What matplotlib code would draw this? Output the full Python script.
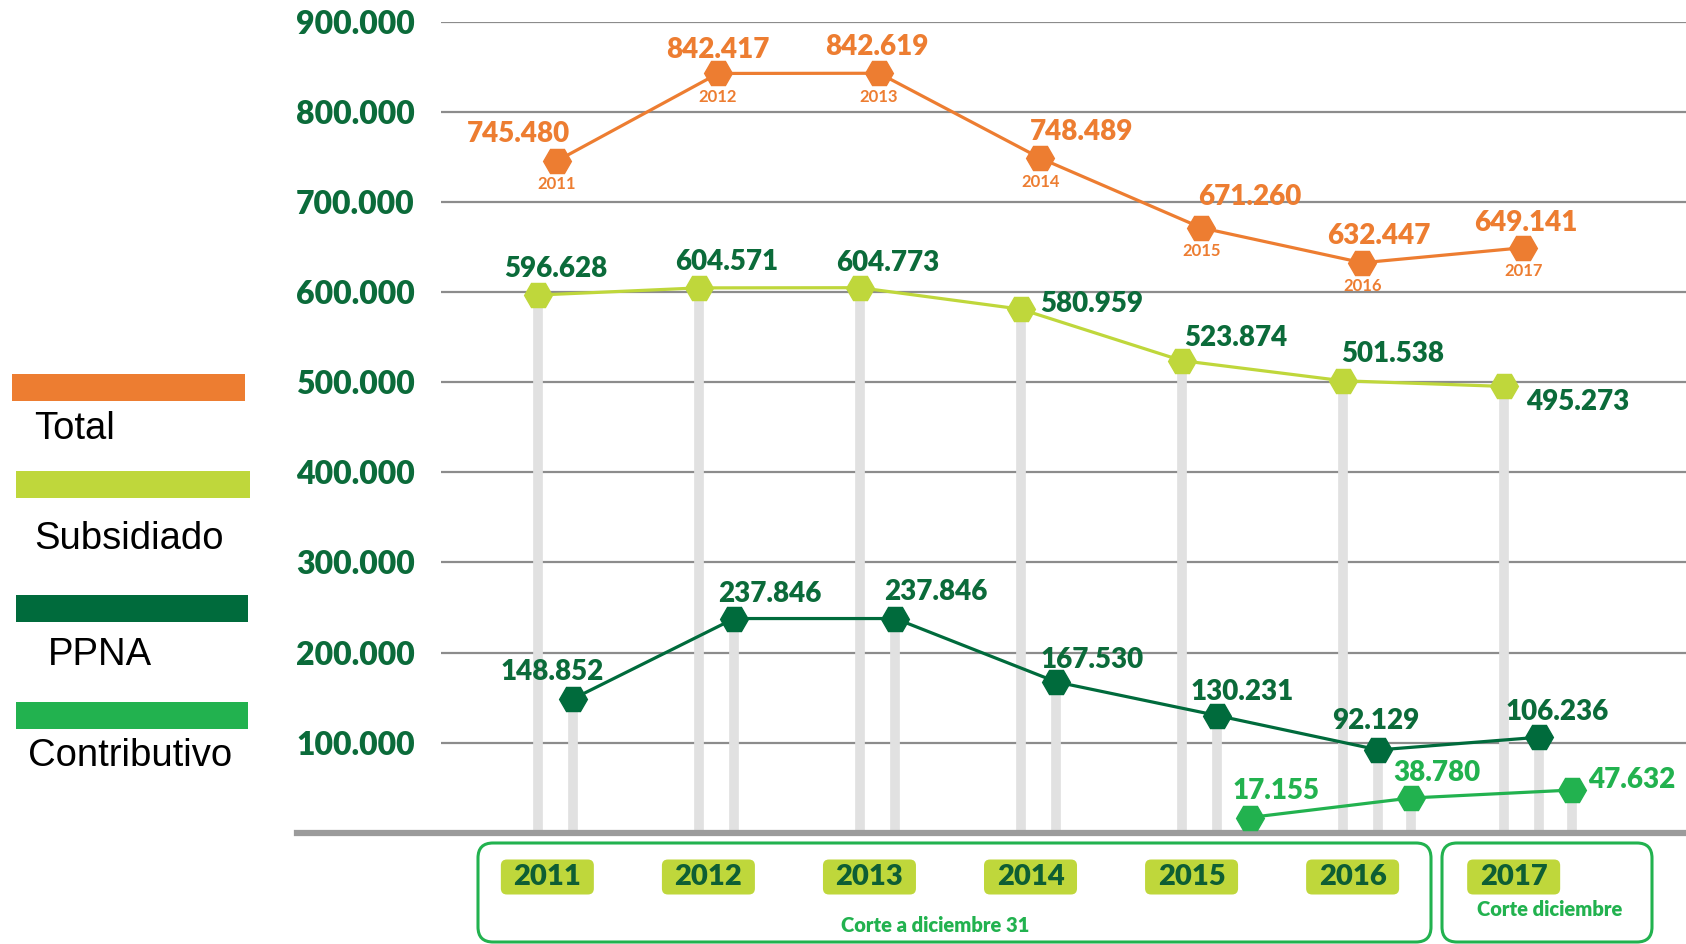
import matplotlib
matplotlib.use('Agg')
import matplotlib.pyplot as plt
from matplotlib.patches import Rectangle, FancyBboxPatch
import numpy as np

plt.rcParams['font.family'] = ['Lato', 'DejaVu Sans']

years = [2011, 2012, 2013, 2014, 2015, 2016, 2017]
total = [745480, 842417, 842619, 748489, 671260, 632447, 649141]
subsidiado = [596628, 604571, 604773, 580959, 523874, 501538, 495273]
ppna = [148852, 237846, 237846, 167530, 130231, 92129, 106236]
contrib_years = [2015, 2016, 2017]
contributivo = [17155, 38780, 47632]
yticks = [100000, 200000, 300000, 400000, 500000, 600000, 700000, 800000, 900000]
legend_names = ['Total', 'Subsidiado', 'PPNA', 'Contributivo']

ORANGE = '#ED7D31'
LIME = '#BFD73B'
DKGREEN = '#006B3C'
GREEN = '#22B24F'
TXTGREEN = '#0B6B3A'
STEM = '#e1e1e1'
W = 'heavy'

# label offsets (points) from each marker
off_total = [(-28, 19), (0, 17), (-2, 19), (30, 19), (35, 22), (12, 19), (2, 18)]
off_sub = [(13, 19), (20, 19), (20, 18), (51, 4), (39, 16), (36, 19), (53, -11)]
off_ppna = [(-15, 19), (26, 18), (29, 19), (26, 16), (18, 17), (-2, 21), (13, 18)]
off_con = [(19, 19), (19, 18), (43, 7)]


def fmt(v):
    return f'{v:,}'.replace(',', '.')


fig = plt.figure(figsize=(16.86, 9.44), dpi=100)
ax = fig.add_axes([0.2616, 0.1176, 0.7384, 0.8596])

x = np.arange(len(years))
xc = np.array([years.index(y) for y in contrib_years])
x_tot = x + 0.12
x_ppna = x + 0.22
x_con = xc + 0.42

ax.set_xlim(-0.60, 7.13)
ax.set_ylim(0, 900000)
ax.set_xticks([])
ax.set_yticks(yticks)
ax.set_yticklabels([fmt(t) for t in yticks])
ax.tick_params(axis='y', length=0, pad=19, labelsize=23, labelcolor=TXTGREEN)
for lab in ax.get_yticklabels():
    lab.set_fontweight(W)
for s in ax.spines.values():
    s.set_visible(False)
ax.grid(axis='y', color='#8c8c8c', lw=1.6)
ax.set_axisbelow(True)

ax.plot([-0.116, 1], [0, 0], transform=ax.transAxes, color='#9b9b9b', lw=4.5,
        clip_on=False, zorder=1.2)

ax.vlines(x, 0, subsidiado, color=STEM, lw=7, zorder=1.1)
ax.vlines(x_ppna, 0, ppna, color=STEM, lw=7, zorder=1.1)
ax.vlines(x_con, 0, contributivo, color=STEM, lw=7, zorder=1.1)

ax.plot(x_tot, total, color=ORANGE, lw=2.3, marker='H', ms=20, zorder=3, clip_on=False)
ax.plot(x, subsidiado, color=LIME, lw=2.3, marker='H', ms=20, zorder=3, clip_on=False)
ax.plot(x_ppna, ppna, color=DKGREEN, lw=2.3, marker='H', ms=20, zorder=3, clip_on=False)
ax.plot(x_con, contributivo, color=GREEN, lw=2.3, marker='H', ms=20, zorder=3, clip_on=False)

for xi, v, o, yr in zip(x_tot, total, off_total, years):
    ax.annotate(fmt(v), (xi, v), xytext=o, textcoords='offset points', ha='center',
                va='center', fontsize=20, fontweight=W, color=ORANGE)
    ax.annotate(str(yr), (xi, v), xytext=(0, -17), textcoords='offset points',
                ha='center', va='center', fontsize=12, fontweight='bold', color=ORANGE)
for xi, v, o in zip(x, subsidiado, off_sub):
    ax.annotate(fmt(v), (xi, v), xytext=o, textcoords='offset points', ha='center',
                va='center', fontsize=20, fontweight=W, color=TXTGREEN)
for xi, v, o in zip(x_ppna, ppna, off_ppna):
    ax.annotate(fmt(v), (xi, v), xytext=o, textcoords='offset points', ha='center',
                va='center', fontsize=20, fontweight=W, color=TXTGREEN)
for xi, v, o in zip(x_con, contributivo, off_con):
    ax.annotate(fmt(v), (xi, v), xytext=o, textcoords='offset points', ha='center',
                va='center', fontsize=20, fontweight=W, color=GREEN)

# year pills and boxes under the axis (figure inches)
inch = fig.dpi_scale_trans
for i, yr in enumerate(years):
    cx = ax.transData.transform((i + 0.06, 0))[0] / fig.dpi
    fig.add_artist(FancyBboxPatch((cx - 0.465, 0.495), 0.93, 0.35,
                                  boxstyle='round,pad=0,rounding_size=0.06',
                                  fc=LIME, ec='none', transform=inch))
    fig.text(cx, 0.67, str(yr), transform=inch, ha='center', va='center',
             fontsize=21, fontweight=W, color='#0E5E34')

fig.add_artist(FancyBboxPatch((4.78, 0.02), 9.53, 0.99,
                              boxstyle='round,pad=0,rounding_size=0.15',
                              fc='none', ec=GREEN, lw=2.2, transform=inch))
fig.add_artist(FancyBboxPatch((14.42, 0.02), 2.10, 0.99,
                              boxstyle='round,pad=0,rounding_size=0.15',
                              fc='none', ec=GREEN, lw=2.2, transform=inch))
fig.text(9.35, 0.19, 'Corte a diciembre 31', transform=inch, ha='center', va='center',
         fontsize=14.5, fontweight=W, color=GREEN)
fig.text(15.5, 0.34, 'Corte diciembre', transform=inch, ha='center', va='center',
         fontsize=14.5, fontweight=W, color=GREEN)

# legend on the left
leg_colors = [ORANGE, LIME, DKGREEN, GREEN]
leg_rects = [(0.12, 5.43, 2.33), (0.16, 4.46, 2.34), (0.16, 3.22, 2.32), (0.16, 2.15, 2.32)]
leg_text = [(0.34, 5.05), (0.34, 3.95), (0.48, 2.79), (0.28, 1.78)]
for name, c, r, t in zip(legend_names, leg_colors, leg_rects, leg_text):
    fig.add_artist(Rectangle((r[0], r[1]), r[2], 0.27, fc=c, ec='none', transform=inch))
    fig.text(t[0], t[1], name, transform=inch, ha='left', va='baseline',
             fontsize=27.5, color='black', family=['Liberation Sans', 'DejaVu Sans'])

fig.savefig('out.png', dpi=100, facecolor='white')
